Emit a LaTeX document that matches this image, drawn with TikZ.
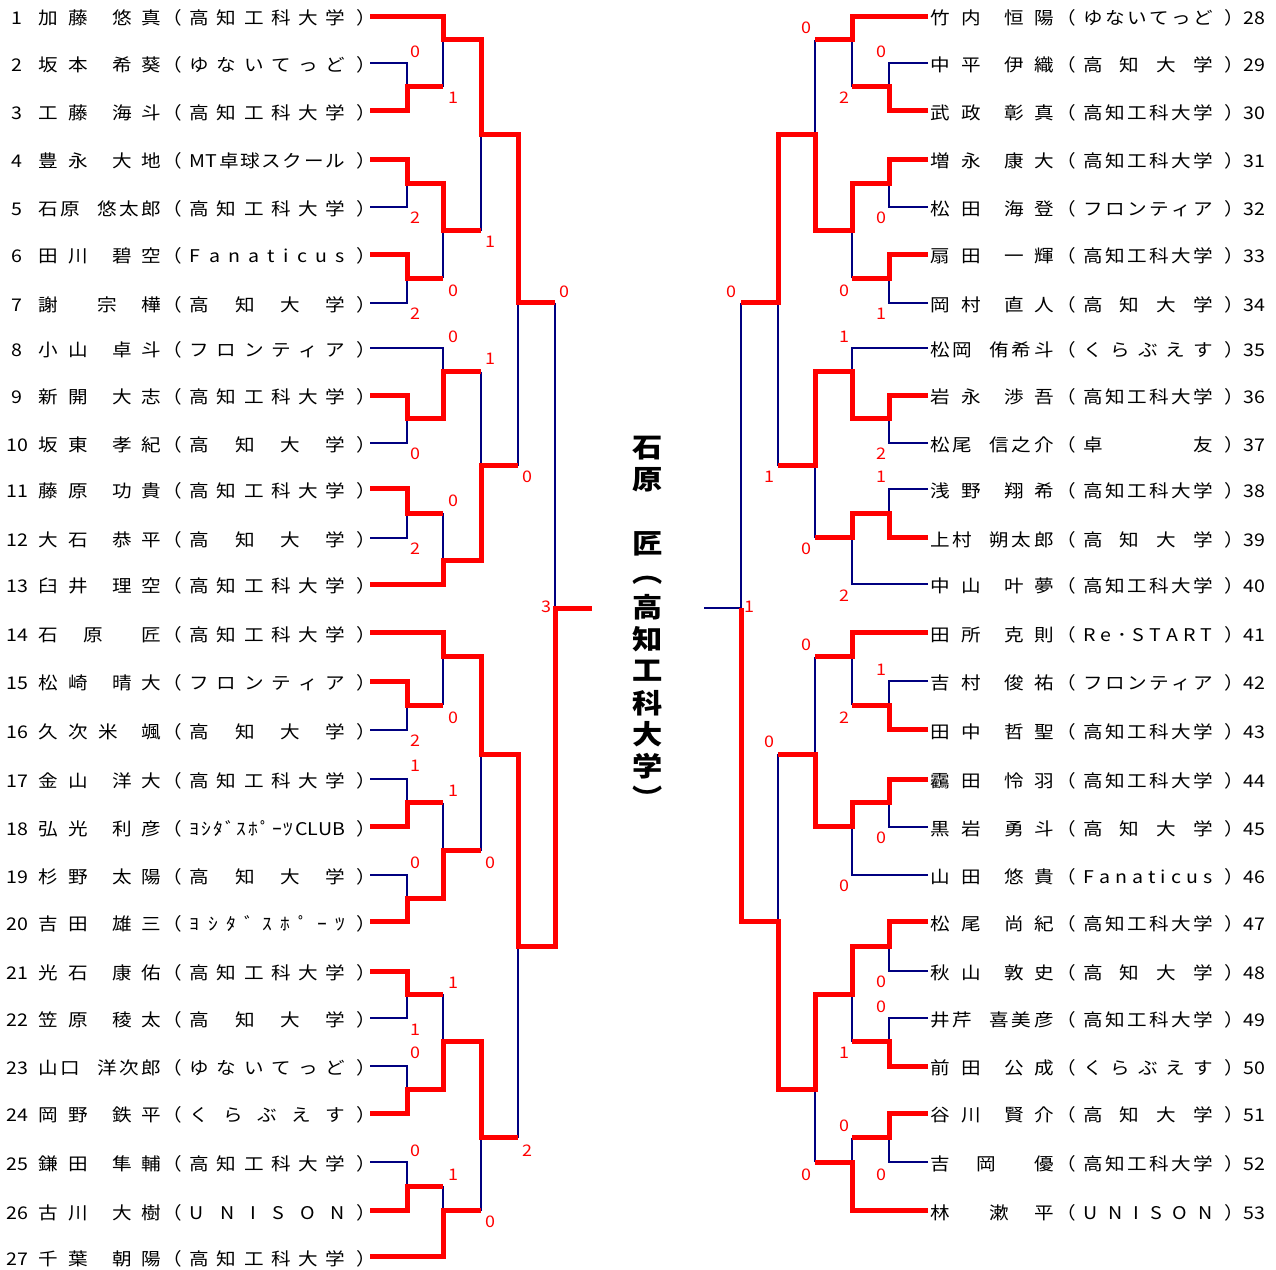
\documentclass[tikz,border=0pt]{standalone}
\usepackage{fontspec}
\newfontfamily\cjk[FakeStretch=1.12]{Noto Sans CJK JP}
\definecolor{navyline}{HTML}{000080}
\definecolor{redline}{HTML}{FF0000}
\ExplSyntaxOn
\NewDocumentCommand \dist { m m }
  { \makebox[#1][s]{ \tl_map_inline:nn {#2} { ##1 \hfill } \unskip } }
\ExplSyntaxOff
\newcommand\putc[2]{\rlap{\hspace{#1pt}\makebox[0pt]{#2}}}
\newcommand\pOpen[1]{\rlap{\hspace{\dimexpr#1pt-0.73em\relax}（}}
\newcommand\pClose[1]{\rlap{\hspace{\dimexpr#1pt-0.27em\relax}）}}
\newcommand\entL[3]{\makebox[370pt][l]{\putc{17.2}{#1}#2\pOpen{175.3}\rlap{\hspace{189.7pt}\dist{155.1pt}{#3}}\pClose{361}}}
\newcommand\entR[3]{\makebox[383.5pt][l]{#2\pOpen{176.8}\rlap{\hspace{190.5pt}\dist{129.5pt}{#3}}\pClose{336.1}\putc{362}{#1}}}
\newcommand\nAB[4]{\putc{48}{#1}\putc{78.3}{#2}\putc{122}{#3}\putc{151.5}{#4}}
\newcommand\nFive[5]{\putc{48}{#1}\putc{70}{#2}\putc{107}{#3}\putc{129}{#4}\putc{151.5}{#5}}
\newcommand\nMidA[3]{\putc{48}{#1}\putc{93.5}{#2}\putc{151.5}{#3}}
\newcommand\nMidB[3]{\putc{48}{#1}\putc{107}{#2}\putc{151.5}{#3}}
\newcommand\nFour[4]{\putc{48}{#1}\putc{78}{#2}\putc{108}{#3}\putc{151.5}{#4}}
\begin{document}
\begin{tikzpicture}[x=1pt,y=-1pt,
  lose/.style={draw=navyline,line width=2pt},
  win/.style={draw=redline,line width=5pt,line join=miter},
  entry/.style={anchor=base west,inner sep=0pt,yshift=-8.5pt,font=\cjk\fontsize{17.5}{17.5}\selectfont},
  score/.style={text=redline,inner sep=0pt,font=\cjk\fontsize{16}{16}\selectfont},
  champ/.style={inner sep=0pt,font=\cjk\bfseries\fontsize{27}{27}\selectfont}]
\useasboundingbox (0,0) rectangle (1276,1269);

% ---------------- left entries
\node[entry] (e1) at (0,16) {\entL{1}{\nAB{加}{藤}{悠}{真}}{高知工科大学}};
\node[entry] (e2) at (0,63) {\entL{2}{\nAB{坂}{本}{希}{葵}}{ゆないてっど}};
\node[entry] (e3) at (0,110.5) {\entL{3}{\nAB{工}{藤}{海}{斗}}{高知工科大学}};
\node[entry] (e4) at (0,159) {\entL{4}{\nAB{豊}{永}{大}{地}}{{MT}卓球スクール}};
\node[entry] (e5) at (0,207) {\entL{5}{\nFive{石}{原}{悠}{太}{郎}}{高知工科大学}};
\node[entry] (e6) at (0,254) {\entL{6}{\nAB{田}{川}{碧}{空}}{Fanaticus}};
\node[entry] (e7) at (0,302.5) {\entL{7}{\nMidB{謝}{宗}{樺}}{高知大学}};
\node[entry] (e8) at (0,348) {\entL{8}{\nAB{小}{山}{卓}{斗}}{フロンティア}};
\node[entry] (e9) at (0,395) {\entL{9}{\nAB{新}{開}{大}{志}}{高知工科大学}};
\node[entry] (e10) at (0,442.5) {\entL{10}{\nAB{坂}{東}{孝}{紀}}{高知大学}};
\node[entry] (e11) at (0,488.5) {\entL{11}{\nAB{藤}{原}{功}{貴}}{高知工科大学}};
\node[entry] (e12) at (0,537.5) {\entL{12}{\nAB{大}{石}{恭}{平}}{高知大学}};
\node[entry] (e13) at (0,584) {\entL{13}{\nAB{臼}{井}{理}{空}}{高知工科大学}};
\node[entry] (e14) at (0,632.5) {\entL{14}{\nMidA{石}{原}{匠}}{高知工科大学}};
\node[entry] (e15) at (0,681) {\entL{15}{\nAB{松}{崎}{晴}{大}}{フロンティア}};
\node[entry] (e16) at (0,729.5) {\entL{16}{\nFour{久}{次}{米}{颯}}{高知大学}};
\node[entry] (e17) at (0,779) {\entL{17}{\nAB{金}{山}{洋}{大}}{高知工科大学}};
\node[entry] (e18) at (0,826.5) {\entL{18}{\nAB{弘}{光}{利}{彦}}{ﾖｼﾀﾞｽﾎﾟｰﾂ{CLUB}}};
\node[entry] (e19) at (0,875) {\entL{19}{\nAB{杉}{野}{太}{陽}}{高知大学}};
\node[entry] (e20) at (0,921.5) {\entL{20}{\nAB{吉}{田}{雄}{三}}{ﾖｼﾀﾞｽﾎﾟｰﾂ}};
\node[entry] (e21) at (0,971) {\entL{21}{\nAB{光}{石}{康}{佑}}{高知工科大学}};
\node[entry] (e22) at (0,1017.5) {\entL{22}{\nAB{笠}{原}{稜}{太}}{高知大学}};
\node[entry] (e23) at (0,1066) {\entL{23}{\nFive{山}{口}{洋}{次}{郎}}{ゆないてっど}};
\node[entry] (e24) at (0,1113) {\entL{24}{\nAB{岡}{野}{鉄}{平}}{くらぶえす}};
\node[entry] (e25) at (0,1162) {\entL{25}{\nAB{鎌}{田}{隼}{輔}}{高知工科大学}};
\node[entry] (e26) at (0,1210.5) {\entL{26}{\nAB{古}{川}{大}{樹}}{UNISON}};
\node[entry] (e27) at (0,1256.5) {\entL{27}{\nAB{千}{葉}{朝}{陽}}{高知工科大学}};

% ---------------- right entries
\node[entry] (e28) at (892.5,16) {\entR{28}{\nAB{竹}{内}{恒}{陽}}{ゆないてっど}};
\node[entry] (e29) at (892.5,63) {\entR{29}{\nAB{中}{平}{伊}{織}}{高知大学}};
\node[entry] (e30) at (892.5,110.5) {\entR{30}{\nAB{武}{政}{彰}{真}}{高知工科大学}};
\node[entry] (e31) at (892.5,159) {\entR{31}{\nAB{増}{永}{康}{大}}{高知工科大学}};
\node[entry] (e32) at (892.5,207) {\entR{32}{\nAB{松}{田}{海}{登}}{フロンティア}};
\node[entry] (e33) at (892.5,254) {\entR{33}{\nAB{扇}{田}{一}{輝}}{高知工科大学}};
\node[entry] (e34) at (892.5,302.5) {\entR{34}{\nAB{岡}{村}{直}{人}}{高知大学}};
\node[entry] (e35) at (892.5,348) {\entR{35}{\nFive{松}{岡}{侑}{希}{斗}}{くらぶえす}};
\node[entry] (e36) at (892.5,395) {\entR{36}{\nAB{岩}{永}{渉}{吾}}{高知工科大学}};
\node[entry] (e37) at (892.5,442.5) {\entR{37}{\nFive{松}{尾}{信}{之}{介}}{卓友}};
\node[entry] (e38) at (892.5,488.5) {\entR{38}{\nAB{浅}{野}{翔}{希}}{高知工科大学}};
\node[entry] (e39) at (892.5,537.5) {\entR{39}{\nFive{上}{村}{朔}{太}{郎}}{高知大学}};
\node[entry] (e40) at (892.5,584) {\entR{40}{\nAB{中}{山}{叶}{夢}}{高知工科大学}};
\node[entry] (e41) at (892.5,632.5) {\entR{41}{\nAB{田}{所}{克}{則}}{Re･START}};
\node[entry] (e42) at (892.5,681) {\entR{42}{\nAB{吉}{村}{俊}{祐}}{フロンティア}};
\node[entry] (e43) at (892.5,729.5) {\entR{43}{\nAB{田}{中}{哲}{聖}}{高知工科大学}};
\node[entry] (e44) at (892.5,779) {\entR{44}{\nAB{靏}{田}{怜}{羽}}{高知工科大学}};
\node[entry] (e45) at (892.5,826.5) {\entR{45}{\nAB{黒}{岩}{勇}{斗}}{高知大学}};
\node[entry] (e46) at (892.5,875) {\entR{46}{\nAB{山}{田}{悠}{貴}}{Fanaticus}};
\node[entry] (e47) at (892.5,921.5) {\entR{47}{\nAB{松}{尾}{尚}{紀}}{高知工科大学}};
\node[entry] (e48) at (892.5,971) {\entR{48}{\nAB{秋}{山}{敦}{史}}{高知大学}};
\node[entry] (e49) at (892.5,1017.5) {\entR{49}{\nFive{井}{芹}{喜}{美}{彦}}{高知工科大学}};
\node[entry] (e50) at (892.5,1066) {\entR{50}{\nAB{前}{田}{公}{成}}{くらぶえす}};
\node[entry] (e51) at (892.5,1113) {\entR{51}{\nAB{谷}{川}{賢}{介}}{高知大学}};
\node[entry] (e52) at (892.5,1162) {\entR{52}{\nMidA{吉}{岡}{優}}{高知工科大学}};
\node[entry] (e53) at (892.5,1210.5) {\entR{53}{\nMidB{林}{漱}{平}}{UNISON}};

% ---------------- left bracket, losing lines
\draw[lose] (370,63) -| (407,86.75);
\draw[lose] (443,86.75) -- (443,39.5);
\draw[lose] (370,207) -| (407,183);
\draw[lose] (370,302.5) -| (407,278.25);
\draw[lose] (443,278.25) -- (443,230.5);
\draw[lose] (481,230.5) -- (481,134.75);
\draw[lose] (370,348) -| (443,371.5);
\draw[lose] (370,442.5) -| (407,418.75);
\draw[lose] (370,537.5) -| (407,513);
\draw[lose] (443,513) -- (443,560.75);
\draw[lose] (481,371.5) -- (481,465.5);
\draw[lose] (518,465.5) -- (518,302.5);
\draw[lose] (555,302.5) -- (555,608.25);
\draw[lose] (370,729.5) -| (407,705.25);
\draw[lose] (443,705.25) -- (443,656.75);
\draw[lose] (370,779) -| (407,802.75);
\draw[lose] (443,802.75) -- (443,850.75);
\draw[lose] (370,875) -| (407,898.25);
\draw[lose] (481,850.75) -- (481,754.25);
\draw[lose] (370,1017.5) -| (407,994.25);
\draw[lose] (443,994.25) -- (443,1041.75);
\draw[lose] (370,1066) -| (407,1089.5);
\draw[lose] (370,1162) -| (407,1186.25);
\draw[lose] (443,1186.25) -- (443,1210.5);
\draw[lose] (481,1210.5) -- (481,1137.5);
\draw[lose] (518,1137.5) -- (518,946.25);

% ---------------- right bracket, losing lines
\draw[lose] (928,63) -| (889,86.75);
\draw[lose] (852,86.75) -- (852,39.5);
\draw[lose] (815,39.5) -- (815,134.75);
\draw[lose] (928,207) -| (889,183);
\draw[lose] (928,302.5) -| (889,278.25);
\draw[lose] (852,278.25) -- (852,230.5);
\draw[lose] (928,348) -| (852,371.5);
\draw[lose] (928,442.5) -| (889,418.75);
\draw[lose] (778,465.5) -- (778,302.5);
\draw[lose] (928,488.5) -| (889,513);
\draw[lose] (928,584) -| (852,537.5);
\draw[lose] (815,537.5) -- (815,465.5);
\draw[lose] (741,302.5) -- (741,608.25) -- (704,608.25);
\draw[lose] (928,681) -| (889,705.25);
\draw[lose] (852,705.25) -- (852,656.75);
\draw[lose] (928,826.5) -| (889,802.75);
\draw[lose] (928,875) -| (852,826.5);
\draw[lose] (815,754.25) -- (815,656.75);
\draw[lose] (778,754.25) -- (778,921.5);
\draw[lose] (928,971) -| (889,946.25);
\draw[lose] (928,1017.5) -| (889,1041.75);
\draw[lose] (852,1041.75) -- (852,994.25);
\draw[lose] (928,1162) -| (889,1137.5);
\draw[lose] (852,1137.5) -- (852,1162);
\draw[lose] (815,1162) -- (815,1089.5);

% ---------------- left bracket, winning lines
\draw[win] (370,16) -| (443,39.5) -| (481,134.75) -| (518,302.5) -- (555,302.5);
\draw[win] (370,110.5) -| (407,86.75) -- (443,86.75);
\draw[win] (370,159) -| (407,183) -| (443,230.5) -- (481,230.5);
\draw[win] (370,254) -| (407,278.25) -- (443,278.25);
\draw[win] (370,395) -| (407,418.75) -| (443,371.5) -- (481,371.5);
\draw[win] (370,488.5) -| (407,513) -- (443,513);
\draw[win] (370,584) -| (443,560.75) -| (481,465.5) -- (518,465.5);
\draw[win] (370,632.5) -| (443,656.75) -| (481,754.25) -| (518,946.25) -| (555,608.25) -- (592,608.25);
\draw[win] (370,681) -| (407,705.25) -- (443,705.25);
\draw[win] (370,826.5) -| (407,802.75) -- (443,802.75);
\draw[win] (370,921.5) -| (407,898.25) -| (443,850.75) -- (481,850.75);
\draw[win] (370,971) -| (407,994.25) -- (443,994.25);
\draw[win] (370,1113) -| (407,1089.5) -| (443,1041.75) -| (481,1137.5) -- (518,1137.5);
\draw[win] (370,1210.5) -| (407,1186.25) -- (443,1186.25);
\draw[win] (370,1256.5) -| (443,1210.5) -- (481,1210.5);

% ---------------- right bracket, winning lines
\draw[win] (928,16) -| (852,39.5) -- (815,39.5);
\draw[win] (928,110.5) -| (889,86.75) -- (852,86.75);
\draw[win] (928,159) -| (889,183) -| (852,230.5) -| (815,134.75) -| (778,302.5) -- (741,302.5);
\draw[win] (928,254) -| (889,278.25) -- (852,278.25);
\draw[win] (928,395) -| (889,418.75) -| (852,371.5) -| (815,465.5) -- (778,465.5);
\draw[win] (928,537.5) -| (889,513) -| (852,537.5) -- (815,537.5);
\draw[win] (928,632.5) -| (852,656.75) -- (815,656.75);
\draw[win] (928,729.5) -| (889,705.25) -- (852,705.25);
\draw[win] (928,779) -| (889,802.75) -| (852,826.5) -| (815,754.25) -- (778,754.25);
\draw[win] (928,921.5) -| (889,946.25) -| (852,994.25) -| (815,1089.5) -| (778,921.5) -| (741,608.25);
\draw[win] (928,1066) -| (889,1041.75) -- (852,1041.75);
\draw[win] (928,1113) -| (889,1137.5) -- (852,1137.5);
\draw[win] (928,1210.5) -| (852,1162) -- (815,1162);

% ---------------- scores
\foreach \x/\y/\t [count=\i] in {415/52/0,453/98/1,415/218/2,490/242/1,453/291/0,415/314/2,564/292/0,
  453/337/0,490/359/1,415/454/0,453/501/0,415/549/2,527/477/0,546/607/3,453/718/0,415/741/2,
  415/766/1,453/791/1,415/863/0,490/863/0,453/983/1,415/1030/1,415/1053/0,415/1151/0,
  453/1175/1,527/1151/2,490/1222/0}
  \node[score] (sl\i) at (\x,\y) {\t};
\foreach \x/\y/\t [count=\i] in {806/28/0,881/52/0,844/98/2,881/218/0,844/291/0,881/314/1,731/292/0,
  844/337/1,881/454/2,769/477/1,881/477/1,806/549/0,844/596/2,749/607/1,806/645/0,881/670/1,
  844/718/2,769/742/0,881/838/0,844/886/0,881/982/0,881/1007/0,844/1053/1,844/1126/0,
  881/1175/0,806/1175/0}
  \node[score] (sr\i) at (\x,\y) {\t};

% ---------------- champion
\foreach \c/\y [count=\i] in {石/448,原/480,匠/544,︵/580,高/607,知/639,工/671,科/703,大/734,学/766,︶/797}
  \node[champ] (w\i) at (648,\y) {\c};
\end{tikzpicture}
\end{document}
